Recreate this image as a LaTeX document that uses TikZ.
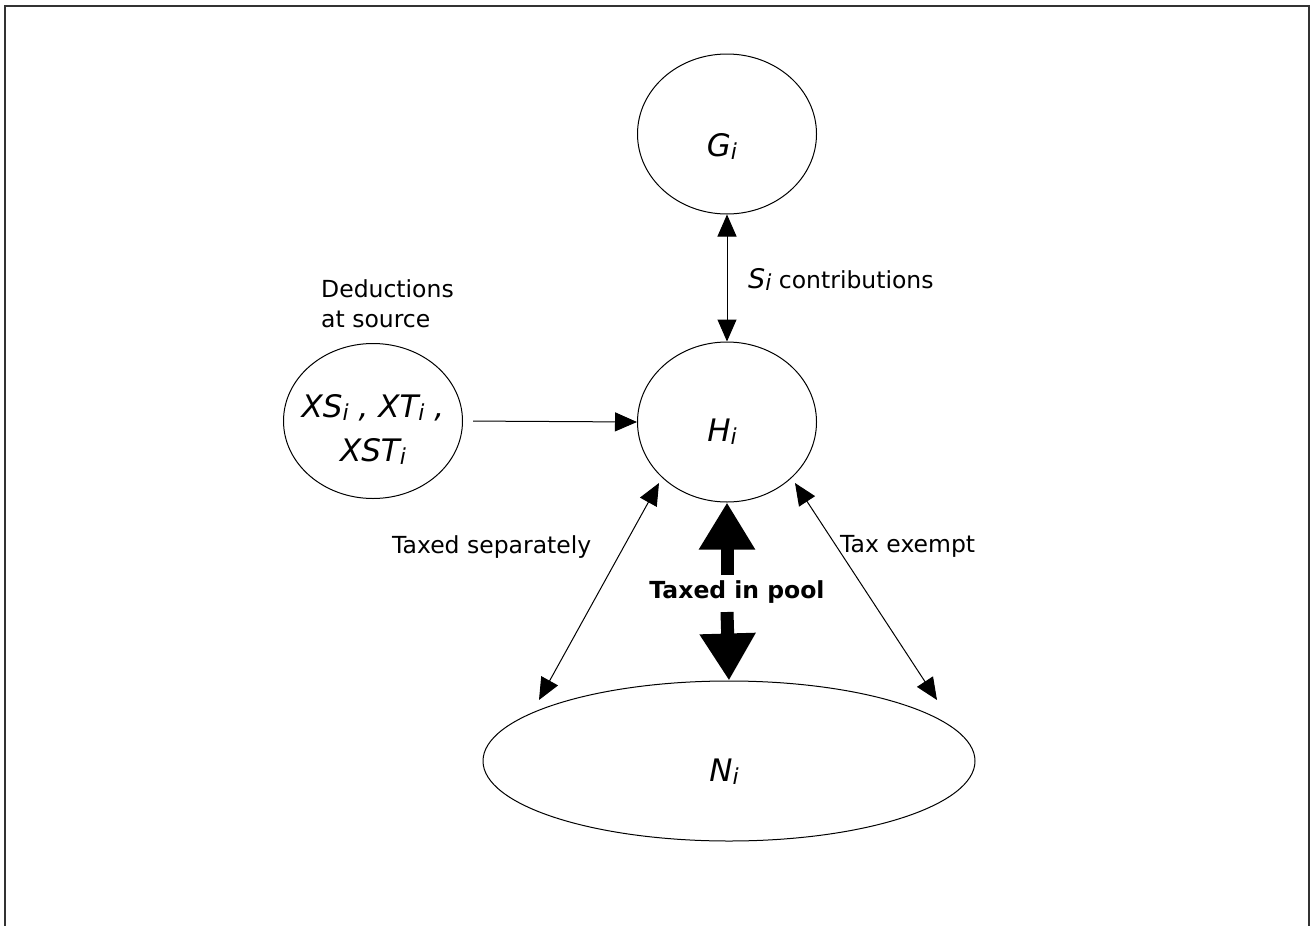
\documentclass[tikz,border=0pt]{standalone}
\usepackage{fontspec}
\setmainfont{DejaVu Sans}
\usetikzlibrary{arrows.meta,shapes.geometric}
\newcommand\subi{\raisebox{-0.1em}{\fontsize{22}{22}\selectfont\itshape i}}
\newcommand\lowerby[2]{\makebox[0pt][c]{\raisebox{-#1}[0pt][0pt]{#2}}}
\begin{document}
\begin{tikzpicture}[x=1pt,y=-1pt,
  oval/.style={draw,ellipse,line width=1pt,inner sep=0pt,
    font=\fontsize{31}{44}\selectfont\itshape},
  twoway/.style={line width=1pt,
    {Triangle[length=22pt,width=19pt]}-{Triangle[length=22pt,width=19pt]}},
  oneway/.style={line width=1pt,-{Triangle[length=22pt,width=19pt]}},
  heavy/.style={line width=13pt,-{Triangle[length=47pt,width=53pt]}},
  lbl/.style={font=\fontsize{23.5}{30}\selectfont,inner sep=0pt},
  boldlbl/.style={font=\fontsize{23.5}{30}\selectfont\bfseries,inner sep=0pt}]
\useasboundingbox (0,0) rectangle (1312,926);
\draw[line width=1.3pt,black!80] (5,926) -- (5,6) -- (1309,6) -- (1309,926);

\node[oval,minimum width=179pt,minimum height=160pt] (G) at (727,134)
  {\lowerby{22pt}{G\subi\kern10pt}};
\node[oval,minimum width=179pt,minimum height=160pt] (H) at (727,422)
  {\lowerby{19pt}{H\subi\kern10pt}};
\node[oval,minimum width=179pt,minimum height=155pt] (X) at (373,421)
  {\lowerby{-4pt}{\begin{tabular}[t]{@{}c@{}}XS\subi{} , XT\subi{} ,\\XST\subi\end{tabular}}};
\node[oval,minimum width=492pt,minimum height=160pt] (N) at (729,761)
  {\lowerby{20pt}{N\subi\kern10pt}};

% labels
\node[lbl,anchor=base west] (Sl) at (748,288)
  {{\fontsize{27}{27}\selectfont\itshape S\subi} contributions};
\node[lbl,anchor=west,align=left] (Dl) at (321,304) {Deductions\\at source};
\node[lbl,anchor=base west] (TSl) at (392,553) {Taxed separately};
\node[lbl,anchor=base west] (TEl) at (840,552) {Tax exempt};
\node[boldlbl,anchor=base] (TPl) at (737,598) {Taxed in pool};

% connectors
\draw[twoway] (G.south) -- (H.north);
\draw[oneway,shorten <=10pt] (X.east) -- (H.west);

\coordinate (tsA) at (659,483);
\coordinate (tsB) at (539,700);
\draw[twoway] (tsA) -- (tsB);
\coordinate (teA) at (795,483);
\coordinate (teB) at (937,700);
\draw[twoway] (teA) -- (teB);

\coordinate (tpA) at (727,575);
\coordinate (tpB) at (727,612);
\draw[heavy] (tpA) -- (H.south);
\draw[heavy] (tpB) -- (N.north);
\end{tikzpicture}
\end{document}
